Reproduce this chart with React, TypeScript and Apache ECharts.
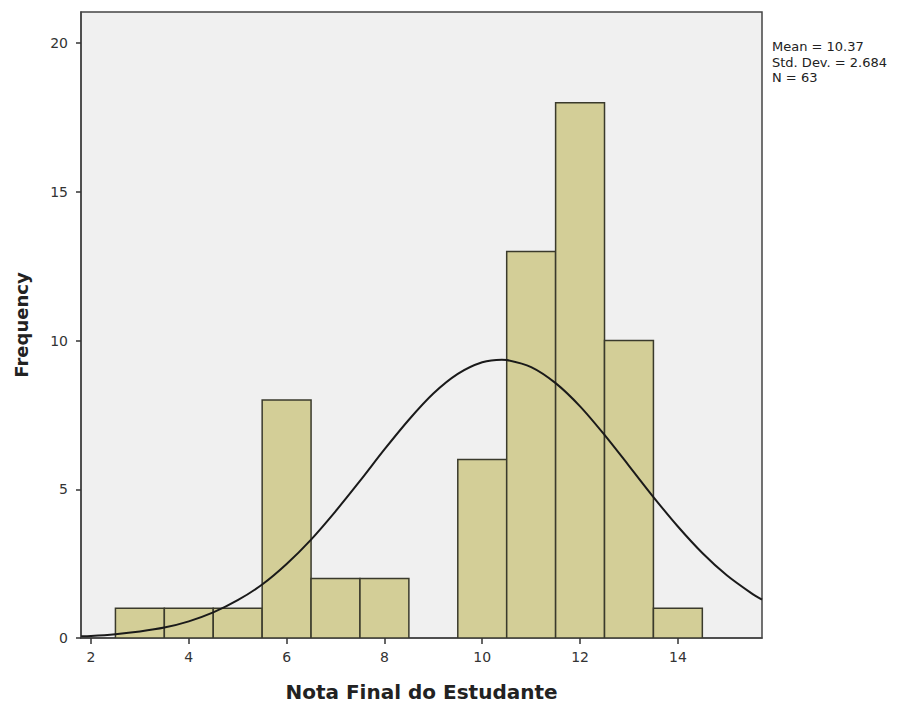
import React, { useEffect, useRef } from "react";
import * as echarts from "echarts";

// Histogram bins (centre of each 1-point-wide bin) and frequencies
const binCenters = [3, 4, 5, 6, 7, 8, 9, 10, 11, 12, 13, 14];
const frequencies = [1, 1, 1, 8, 2, 2, 0, 6, 13, 18, 10, 1];

// Fitted normal curve
const curveX = [1.8, 2, 2.5, 3, 3.5, 4, 4.5, 5, 5.5, 6, 6.5, 7, 7.5, 8, 8.5, 9, 9.5, 10, 10.4, 10.5, 11, 11.5, 12, 12.5, 13, 13.5, 14, 14.5, 15, 15.5, 15.72];
const curveY = [0.06, 0.07, 0.13, 0.22, 0.35, 0.56, 0.86, 1.27, 1.8, 2.49, 3.31, 4.26, 5.28, 6.34, 7.34, 8.22, 8.88, 9.27, 9.36, 9.35, 9.11, 8.57, 7.79, 6.83, 5.79, 4.74, 3.75, 2.86, 2.11, 1.51, 1.29];

const xTicks = [2, 4, 6, 8, 10, 12, 14];
const yTicks = [0, 5, 10, 15, 20];

const statsLines = ["Mean = 10.37", "Std. Dev. = 2.684", "N = 63"];

const xTitle = "Nota Final do Estudante";
const yTitle = "Frequency";

export default function App() {
  const ref = useRef<HTMLDivElement>(null);

  useEffect(() => {
    if (!ref.current) return;
    const chart = echarts.init(ref.current, null, { renderer: "svg" });

    const barData = binCenters
      .map((c, i) => [c - 0.5, c + 0.5, frequencies[i]])
      .filter((d) => d[2] > 0);

    const tickFont = {
      fontFamily: "DejaVu Sans",
      fontSize: 14,
      color: "#333",
    };

    chart.setOption({
      animation: false,
      backgroundColor: "#ffffff",
      grid: {
        left: 81,
        right: 150,
        top: 12,
        bottom: 65,
        show: true,
        backgroundColor: "#F0F0F0",
        borderColor: "#444",
        borderWidth: 1.5,
        containLabel: false,
        outerBoundsMode: "none",
      },
      xAxis: {
        type: "value",
        min: 1.796,
        max: 15.72,
        name: xTitle,
        nameLocation: "middle",
        nameGap: 44,
        nameTextStyle: {
          fontFamily: "DejaVu Sans",
          fontWeight: "bold",
          fontSize: 20,
          color: "#222",
        },
        axisLine: { show: true, lineStyle: { color: "#444", width: 1.5 } },
        axisTick: {
          show: true,
          length: 6,
          customValues: xTicks,
          lineStyle: { color: "#333", width: 1.5 },
        },
        axisLabel: { ...tickFont, margin: 12, customValues: xTicks },
        splitLine: { show: false },
      },
      yAxis: {
        type: "value",
        min: 0,
        max: 21.05,
        name: yTitle,
        nameLocation: "middle",
        nameGap: 51,
        nameTextStyle: {
          fontFamily: "DejaVu Sans",
          fontWeight: "bold",
          fontSize: 18,
          color: "#222",
        },
        axisLine: { show: true, lineStyle: { color: "#444", width: 1.5 } },
        axisTick: {
          show: true,
          length: 5,
          customValues: yTicks,
          lineStyle: { color: "#333", width: 1.5 },
        },
        axisLabel: { ...tickFont, margin: 13, customValues: yTicks },
        splitLine: { show: false },
      },
      series: [
        {
          type: "custom",
          data: barData,
          encode: { x: [0, 1], y: 2 },
          clip: true,
          renderItem: (params: any, api: any) => {
            const p0 = api.coord([api.value(0), 0]);
            const p1 = api.coord([api.value(1), api.value(2)]);
            return {
              type: "rect",
              shape: {
                x: p0[0],
                y: p1[1],
                width: p1[0] - p0[0],
                height: p0[1] - p1[1],
              },
              style: {
                fill: "#D3CE97",
                stroke: "#3a3a2c",
                lineWidth: 1.5,
              },
            };
          },
          z: 2,
        },
        {
          type: "line",
          data: curveX.map((x, i) => [x, curveY[i]]),
          smooth: 0.3,
          showSymbol: false,
          symbol: "none",
          clip: true,
          lineStyle: { color: "#1a1a1a", width: 2 },
          z: 3,
        },
      ],
      graphic: statsLines.map((t, i) => ({
        type: "text",
        left: 772,
        top: 40 + i * 15.5,
        style: {
          text: t,
          fontFamily: "DejaVu Sans",
          fontSize: 13,
          fill: "#222",
        },
      })),
    });

    return () => {
      chart.dispose();
    };
  }, []);

  return (
    <div
      ref={ref}
      style={{ position: "fixed", left: 0, top: 0, width: 912, height: 703 }}
    />
  );
}
